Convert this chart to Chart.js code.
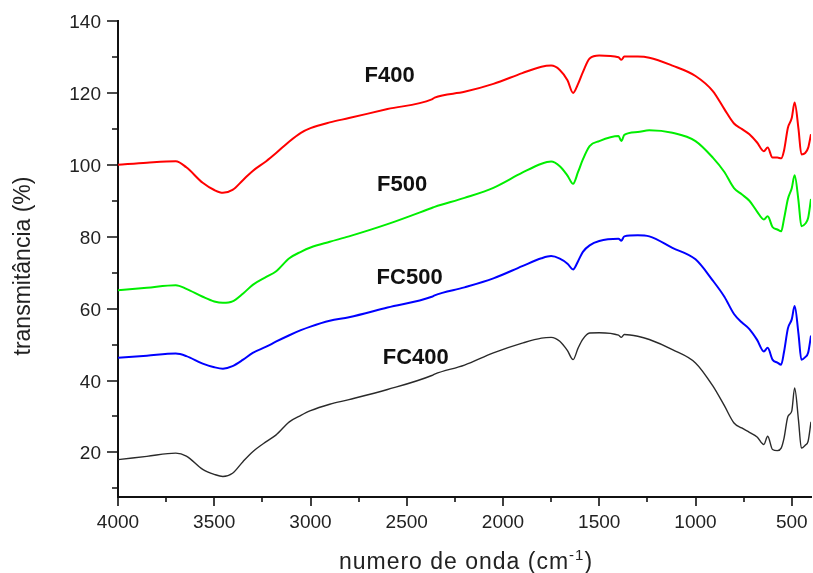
<!DOCTYPE html>
<html>
<head>
<meta charset="utf-8">
<script src="https://cdn.jsdelivr.net/npm/chart.js@4.4.1/dist/chart.umd.min.js"></script>
<style>
  html, body { margin: 0; padding: 0; background: #fff; }
  #wrap { width: 813px; height: 573px; }
</style>
</head>
<body>
<div id="wrap"><canvas id="ftir" width="813" height="573"></canvas></div>
<script>
// wavenumbers (cm-1), shared by all four spectra
const wavenumbers = [4000, 3850, 3700, 3645, 3560, 3500, 3455, 3405, 3350, 3300, 3230, 3180, 3110, 3050, 3000,
    2900, 2800, 2600, 2370, 2355, 2200, 2050, 1900, 1800, 1750, 1705, 1665, 1636, 1610, 1585, 1550, 1500,
    1400, 1385, 1370, 1300, 1240, 1120, 1000, 910, 850, 800, 760, 720, 680, 645, 625, 600, 575, 555, 540,
    520, 500, 485, 465, 450, 430, 415, 400];

const f400 = [100.0, 100.6, 101.0, 99.3, 95.0, 93.0, 92.2, 93.0, 95.8, 98.3, 101.0, 103.2, 106.5, 108.9, 110.2,
    111.8, 113.0, 115.5, 118.2, 118.7, 120.3, 122.5, 125.5, 127.3, 127.6, 126.4, 123.5, 120.0, 122.5, 125.8, 129.6, 130.4,
    129.9, 129.2, 130.1, 130.1, 129.8, 127.6, 124.7, 120.5, 115.5, 111.5, 110.0, 108.5, 106.2, 103.8, 104.8, 102.0, 102.0, 101.8, 104.0,
    110.3, 113.0, 117.3, 110.0, 102.9, 103.3, 104.7, 108.5];

const f500 = [65.1, 65.8, 66.5, 65.5, 63.3, 62.0, 61.6, 62.0, 64.2, 66.6, 68.8, 70.3, 74.0, 75.8, 77.0,
    78.6, 80.1, 83.5, 88.0, 88.3, 90.8, 93.6, 97.8, 100.3, 100.9, 99.6, 97.0, 94.7, 98.0, 101.5, 105.2, 106.6,
    108.0, 106.6, 108.3, 109.1, 109.6, 108.9, 106.6, 102.0, 98.0, 93.5, 91.8, 90.0, 87.0, 84.8, 85.7, 82.7, 82.0, 81.5, 85.0,
    90.5, 93.5, 97.1, 90.0, 82.9, 83.6, 85.2, 90.5];

const fc500 = [46.3, 46.9, 47.5, 46.8, 44.7, 43.7, 43.3, 44.0, 45.8, 47.7, 49.4, 50.8, 52.6, 54.0, 55.0,
    56.6, 57.6, 60.3, 63.3, 63.7, 65.9, 68.4, 71.8, 74.0, 74.6, 73.9, 72.5, 70.9, 73.2, 75.8, 77.6, 78.8,
    79.4, 78.9, 80.1, 80.4, 80.1, 76.9, 73.7, 67.8, 63.3, 58.5, 56.2, 54.3, 51.3, 48.1, 49.1, 45.8, 45.0, 44.4, 48.0,
    54.5, 57.0, 60.7, 53.0, 45.8, 46.5, 47.7, 52.5];

const fc400 = [18.0, 18.9, 19.8, 19.0, 15.3, 13.9, 13.3, 14.2, 17.5, 20.2, 23.0, 24.8, 28.5, 30.3, 31.6,
    33.4, 34.7, 37.5, 41.4, 41.8, 44.3, 47.7, 50.4, 51.8, 52.0, 50.9, 48.3, 45.8, 49.0, 51.5, 53.2, 53.3,
    52.6, 52.0, 52.8, 52.3, 51.4, 48.6, 44.9, 38.5, 33.0, 28.2, 26.8, 25.6, 24.3, 22.2, 24.5, 20.8, 20.5, 21.2, 24.0,
    30.0, 31.5, 37.9, 29.0, 21.2, 22.0, 23.1, 28.5];

// axis ticks
const xMajor = [4000, 3500, 3000, 2500, 2000, 1500, 1000, 500];
const xMinor = [3750, 3250, 2750, 2250, 1750, 1250, 750];
const yMajor = [20, 40, 60, 80, 100, 120, 140];
const yMinor = [10, 30, 50, 70, 90, 110, 130];

// sample names written next to each curve (wavenumber, transmittance)
const sampleNames = ['F400', 'F500', 'FC500', 'FC400'];
const nameWn = [2589, 2524, 2485, 2453];
const nameT = [124.7, 94.4, 68.5, 46.3];

const FONT = '"Liberation Sans", Arial, Helvetica, sans-serif';

function series(values) {
    return wavenumbers.map((w, i) => ({ x: w, y: values[i] }));
}

function dataset(label, values, color, width) {
    return {
        label: label,
        data: series(values),
        borderColor: color,
        borderWidth: width,
        pointRadius: 0,
        fill: false,
        cubicInterpolationMode: 'monotone',
    };
}

// tick marks and tick labels, drawn by hand so the plot area keeps a fixed size
const axisDecor = {
    id: 'axisDecor',
    afterDraw(chart) {
        const { ctx, scales: { x, y } } = chart;
        const axisX = chart.chartArea.left;
        const axisY = chart.chartArea.bottom;
        ctx.save();
        ctx.strokeStyle = '#111';
        ctx.lineWidth = 1.6;
        ctx.beginPath();
        yMajor.forEach(v => { const p = Math.round(y.getPixelForValue(v)); ctx.moveTo(axisX - 11, p); ctx.lineTo(axisX, p); });
        yMinor.forEach(v => { const p = Math.round(y.getPixelForValue(v)); ctx.moveTo(axisX - 6, p); ctx.lineTo(axisX, p); });
        xMajor.forEach(v => { const p = Math.round(x.getPixelForValue(v)); ctx.moveTo(p, axisY); ctx.lineTo(p, axisY + 9); });
        xMinor.forEach(v => { const p = Math.round(x.getPixelForValue(v)); ctx.moveTo(p, axisY); ctx.lineTo(p, axisY + 5); });
        ctx.stroke();

        ctx.fillStyle = '#222';
        ctx.font = '19px ' + FONT;
        ctx.textBaseline = 'alphabetic';
        ctx.textAlign = 'right';
        yMajor.forEach(v => ctx.fillText(String(v), axisX - 17, y.getPixelForValue(v) + 7));
        ctx.textAlign = 'center';
        xMajor.forEach(v => ctx.fillText(String(v), x.getPixelForValue(v), axisY + 31));
        ctx.restore();
    }
};

// axis titles and curve names
const annotations = {
    id: 'annotations',
    afterDraw(chart) {
        const { ctx, scales: { x, y } } = chart;
        ctx.save();
        ctx.fillStyle = '#111';

        ctx.font = 'bold 22px ' + FONT;
        ctx.textAlign = 'center';
        ctx.textBaseline = 'middle';
        sampleNames.forEach((name, i) => {
            ctx.fillText(name, x.getPixelForValue(nameWn[i]), y.getPixelForValue(nameT[i]));
        });

        ctx.fillStyle = '#222';
        ctx.textBaseline = 'alphabetic';
        ctx.textAlign = 'left';
        ctx.letterSpacing = '1px';
        const main = 'numero de onda (cm';
        const sup = '-1';
        const close = ')';
        ctx.font = '23px ' + FONT;
        const wMain = ctx.measureText(main).width;
        const wClose = ctx.measureText(close).width;
        ctx.font = '15px ' + FONT;
        const wSup = ctx.measureText(sup).width;
        const cx = 466;
        let px = cx - (wMain + wSup + wClose) / 2;
        const base = 569;
        ctx.font = '23px ' + FONT;
        ctx.fillText(main, px, base);
        px += wMain;
        ctx.font = '15px ' + FONT;
        ctx.fillText(sup, px, base - 9);
        px += wSup;
        ctx.font = '23px ' + FONT;
        ctx.fillText(close, px, base);

        ctx.letterSpacing = '0px';
        ctx.translate(24, 266);
        ctx.rotate(-Math.PI / 2);
        ctx.textAlign = 'center';
        ctx.textBaseline = 'middle';
        ctx.fillText('transmitância (%)', 0, 0);
        ctx.restore();
    }
};

new Chart(document.getElementById('ftir'), {
    type: 'line',
    data: {
        datasets: [
            dataset('FC400', fc400, '#2a2a2a', 1.4),
            dataset('FC500', fc500, '#0000ff', 2),
            dataset('F500', f500, '#00ee00', 2),
            dataset('F400', f400, '#ff0000', 2),
        ],
    },
    options: {
        responsive: false,
        devicePixelRatio: 1,
        animation: false,
        layout: { padding: { top: 21, right: 2, left: 0, bottom: 0 } },
        plugins: {
            legend: { display: false },
            tooltip: { enabled: false },
        },
        scales: {
            x: {
                type: 'linear',
                reverse: true,
                min: 400,
                max: 4000,
                afterBuildTicks: s => { s.ticks = xMajor.map(v => ({ value: v })); },
                afterFit: s => { s.height = 76; s.paddingLeft = 0; s.paddingRight = 0; },
                grid: { display: false, drawTicks: false },
                border: { display: true, color: '#111', width: 2 },
                ticks: { display: false },
            },
            y: {
                type: 'linear',
                min: 7.6,
                max: 140,
                afterBuildTicks: s => { s.ticks = yMajor.map(v => ({ value: v })); },
                afterFit: s => { s.width = 118; s.paddingTop = 0; s.paddingBottom = 0; },
                grid: { display: false, drawTicks: false },
                border: { display: true, color: '#111', width: 2 },
                ticks: { display: false },
            },
        },
    },
    plugins: [axisDecor, annotations],
});
</script>
</body>
</html>
